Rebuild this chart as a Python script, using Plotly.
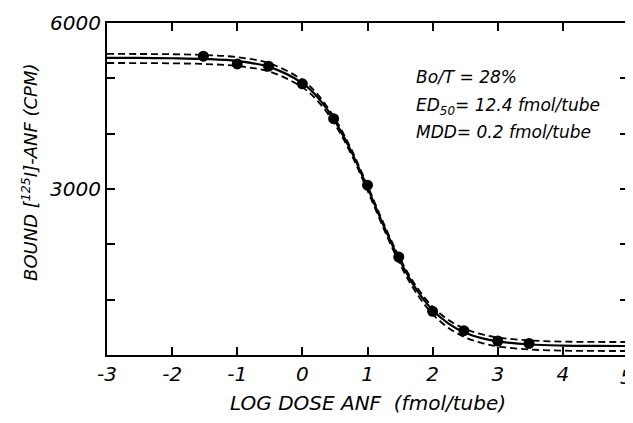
import plotly.graph_objects as go

# Measured data points (log dose, bound CPM)
log_dose = [-1.52, -1.0, -0.52, 0.0, 0.48, 1.0, 1.48, 2.0, 2.48, 3.0, 3.48]
bound_cpm = [5400, 5260, 5220, 4900, 4270, 3070, 1770, 790, 440, 253, 210]

# Fitted curve and confidence bands
curve_x = [-3, -2.5, -2, -1.5, -1, -0.5, 0, 0.25, 0.5, 0.75, 1, 1.25, 1.5, 1.75,
           2, 2.25, 2.5, 2.75, 3, 3.5, 4, 4.5, 5]
fit_y = [5369, 5368, 5363, 5350, 5312, 5203, 4912, 4636, 4227, 3680, 3024, 2331,
         1697, 1186, 814, 564, 403, 306, 246, 190, 170, 164, 163]
upper_y = [5441, 5440, 5435, 5421, 5382, 5269, 4970, 4688, 4273, 3722, 3064, 2373,
           1743, 1238, 872, 628, 471, 376, 317, 262, 242, 236, 235]
lower_y = [5277, 5276, 5271, 5259, 5223, 5119, 4838, 4570, 4169, 3628, 2974, 2279,
           1639, 1120, 740, 484, 318, 218, 156, 99, 79, 73, 72]

x_ticks = [-3, -2, -1, 0, 1, 2, 3, 4, 5]
x_ticktext = ["-3", "-2", "-1", "0", "1", "2", "3", "4", ""]
last_x_label = "5"
y_ticks = [0, 1000, 2000, 3000, 4000, 5000, 6000]
y_ticktext = ["", "", "", "3000", "", "", "6000"]

FONT = "DejaVu Sans"

fig = go.Figure()
for yy in (upper_y, lower_y):
    fig.add_trace(go.Scatter(x=curve_x, y=yy, mode="lines", line_shape="spline",
                             line=dict(color="black", width=1.8, dash="7px,4px"),
                             showlegend=False, hoverinfo="skip"))
fig.add_trace(go.Scatter(x=curve_x, y=fit_y, mode="lines", line_shape="spline",
                         line=dict(color="black", width=2.2), showlegend=False))
fig.add_trace(go.Scatter(x=log_dose, y=bound_cpm, mode="markers",
                         marker=dict(color="black", size=11), showlegend=False))

axis_common = dict(showgrid=False, zeroline=False, showline=True, linecolor="black",
                   linewidth=2, mirror="ticks", ticks="inside", ticklen=8,
                   tickwidth=2, tickcolor="black", automargin=False,
                   tickfont=dict(family=FONT, size=20, color="black", style="italic"))

fig.update_xaxes(range=[-3, 5], tickvals=x_ticks, ticktext=x_ticktext, **axis_common)
fig.update_yaxes(range=[0, 6000], tickvals=y_ticks, ticktext=y_ticktext, **axis_common)

ann_font = dict(family=FONT, size=17, color="black", style="italic")
fig.update_layout(
    template="none",
    width=633, height=415,
    margin=dict(l=99, r=13, t=15, b=68),
    plot_bgcolor="white", paper_bgcolor="white",
    annotations=[
        dict(text=last_x_label, xref="x", yref="paper", x=x_ticks[-1], y=-0.065,
             xanchor="center", yanchor="middle", xshift=-2, showarrow=False,
             font=dict(family=FONT, size=20, color="black", style="italic")),
        dict(text="LOG DOSE ANF  (fmol/tube)", xref="paper", yref="paper",
             x=0.5, y=-0.145, xanchor="center", yanchor="middle", showarrow=False,
             font=dict(family=FONT, size=20, color="black", style="italic")),
        dict(text="BOUND [<sup>125</sup>I]-ANF (CPM)", xref="paper", yref="paper",
             x=-0.148, y=0.551, xanchor="center", yanchor="middle", textangle=-90,
             showarrow=False,
             font=dict(family=FONT, size=18, color="black", style="italic")),
        dict(text="Bo/T = 28%", xref="paper", yref="paper", x=0.589, y=0.837,
             xanchor="left", yanchor="middle", showarrow=False, font=ann_font),
        dict(text="ED<sub>50</sub>= 12.4 fmol/tube", xref="paper", yref="paper",
             x=0.589, y=0.75, xanchor="left", yanchor="middle", showarrow=False,
             font=ann_font),
        dict(text="MDD= 0.2 fmol/tube", xref="paper", yref="paper", x=0.589, y=0.672,
             xanchor="left", yanchor="middle", showarrow=False, font=ann_font),
    ],
)

fig.write_html("out.html")
